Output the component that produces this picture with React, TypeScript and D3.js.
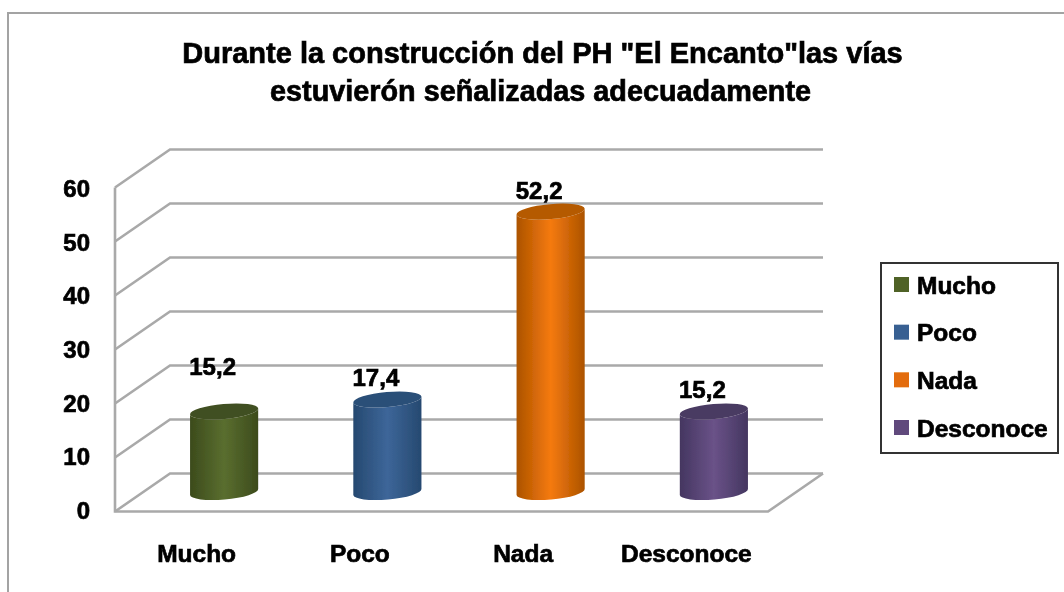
import React from "react";
import * as d3 from "d3";

const titleLines = ['Durante la construcción del PH "El Encanto"las vías', "estuvierón señalizadas adecuadamente"];
const titleCenters = [542.5, 540.5];
const categories = ["Mucho", "Poco", "Nada", "Desconoce"];
const values = [15.2, 17.4, 52.2, 15.2];
const valueLabels = ["15,2", "17,4", "52,2", "15,2"];
const labelLift = [43, 20, 20, 20];
const yTicks = [0, 10, 20, 30, 40, 50, 60];
const baseColors = ["#5a6e2f", "#3d6699", "#f57a0e", "#6a5288"];
const edgeColors = ["#3c4b1c", "#264970", "#ac5300", "#443660"];
const topColors = ["#414f20", "#2b4f78", "#b55a06", "#4a3a62"];
const swatchColors = ["#4f6228", "#376092", "#e36c0a", "#604a7b"];

const W = 1064;
const H = 592;
const depthX = 55;
const depthY = -38;
const gridColor = "#a9a9a9";
const font = "'Liberation Sans', Arial, sans-serif";

const yFront = d3.scaleLinear().domain([0, 60]).range([511.5, 187.5]);
const yTickLabel = d3.scaleLinear().domain([0, 60]).range([510.5, 188.5]);
const xFront = d3.scaleBand<string>().domain(categories).range([115, 768]);
const barRx = 34.2;
const barRy = 7.5;
const tilt = -5;
const midX = depthX / 2;
const midY = -19.5;
const topDrop = 1.5;

function cylinderPath(cx: number, yTop: number, yBase: number) {
  const dx = barRx * Math.cos((tilt * Math.PI) / 180);
  const dy = barRx * Math.sin((tilt * Math.PI) / 180);
  const path = d3.path();
  path.moveTo(cx - dx, yTop - dy);
  path.lineTo(cx - dx, yBase - dy);
  const arc = `A${barRx},${barRy} ${tilt} 0 0 ${cx + dx},${yBase + dy}`;
  return `${path.toString()}${arc}L${cx + dx},${yTop + dy}A${barRx},${barRy} ${tilt} 0 1 ${cx - dx},${yTop - dy}Z`;
}

export default function App() {
  const legendY = d3.scalePoint<string>().domain(categories).range([285, 428]);
  return (
    <svg
      width={W}
      height={H}
      viewBox={`0 0 ${W} ${H}`}
      style={{ position: "absolute", left: 0, top: 0, display: "block", background: "#fff" }}
      fontFamily={font}
      fontWeight="bold"
    >
      <defs>
        <filter id="soft" x="-5%" y="-5%" width="110%" height="110%">
          <feGaussianBlur stdDeviation="0.45" />
        </filter>
        <filter id="softLine" x="-5%" y="-5%" width="110%" height="110%">
          <feGaussianBlur stdDeviation="0.55" />
        </filter>
        {categories.map((c, i) => (
          <linearGradient key={c} id={`grad${i}`} x1="0" x2="1" y1="0" y2="0">
            <stop offset="0" stopColor={edgeColors[i]} />
            <stop offset="0.5" stopColor={baseColors[i]} />
            <stop offset="1" stopColor={edgeColors[i]} />
          </linearGradient>
        ))}
      </defs>

      <path d={`M8,${H}V13H${W}`} fill="none" stroke="#a3a3a3" strokeWidth={2} />

      <g fill="none" stroke={gridColor} strokeWidth={2.6} filter="url(#softLine)">
        {yTicks.map((t) => (
          <path key={t} d={`M115,${yFront(t)}l${depthX},${depthY}H823`} />
        ))}
        <path d={`M115,${yFront(60)}V${yFront(0)}H768L823,${yFront(0) + depthY}`} />
      </g>

      <g filter="url(#softLine)">
        {categories.map((c, i) => {
          const cx = xFront(c)! + xFront.bandwidth() / 2 + midX;
          const yBase = yFront(0) + midY;
          const yTop = yFront(values[i]) + midY + topDrop;
          return (
            <g key={c}>
              <path d={cylinderPath(cx, yTop, yBase)} fill={`url(#grad${i})`} />
              <ellipse
                cx={cx}
                cy={yTop}
                rx={barRx}
                ry={barRy}
                transform={`rotate(${tilt} ${cx} ${yTop})`}
                fill={topColors[i]}
              />
            </g>
          );
        })}
      </g>

      <g filter="url(#soft)" fill="#000" stroke="#000" strokeWidth={0.7}>
        {titleLines.map((line, i) => (
          <text key={line} x={titleCenters[i]} y={63 + i * 37.5} textAnchor="middle" fontSize={i === 0 ? 29 : 28.8}>
            {line}
          </text>
        ))}
        {yTicks.map((t) => (
          <text key={t} x={90} y={yTickLabel(t)} dy="0.35em" textAnchor="end" fontSize={24}>
            {t}
          </text>
        ))}
        {categories.map((c) => (
          <text key={c} x={xFront(c)! + xFront.bandwidth() / 2} y={562} textAnchor="middle" fontSize={24.5}>
            {c}
          </text>
        ))}
        {categories.map((c, i) => (
          <text
            key={c}
            x={xFront(c)! + xFront.bandwidth() / 2 + midX - 11.5}
            y={yFront(values[i]) + midY - labelLift[i]}
            dy="0.35em"
            textAnchor="middle"
            fontSize={24}
          >
            {valueLabels[i]}
          </text>
        ))}
      </g>

      <rect x={881} y={263} width={177} height={190} fill="#fff" stroke="#333" strokeWidth={2} />
      {categories.map((c, i) => (
        <g key={c}>
          <rect x={894} y={legendY(c)! - 8} width={15} height={15} fill={swatchColors[i]} filter="url(#softLine)" />
          <text
            x={917}
            y={legendY(c)!}
            dy="0.35em"
            fontSize={24.5}
            fill="#000"
            stroke="#000"
            strokeWidth={0.7}
            filter="url(#soft)"
          >
            {c}
          </text>
        </g>
      ))}
    </svg>
  );
}
